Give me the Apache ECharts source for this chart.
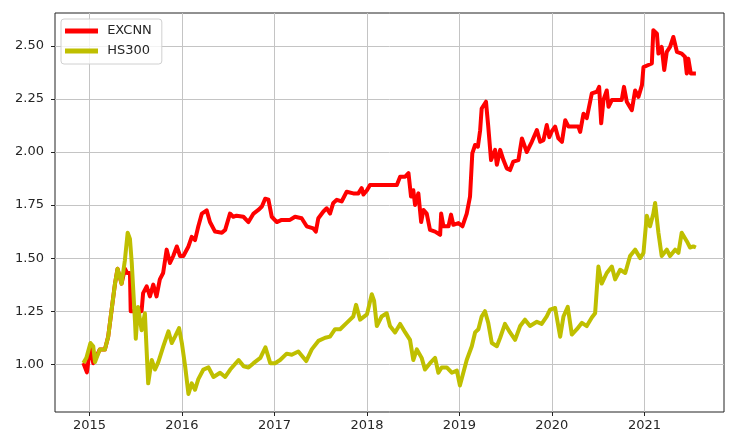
<!DOCTYPE html>
<html>
<head>
<meta charset="utf-8">
<script src="https://cdn.jsdelivr.net/npm/echarts@6.0.0/dist/echarts.min.js"></script>
<style>
html,body{margin:0;padding:0;background:#fff;}
#chart{width:729px;height:438px;}
</style>
</head>
<body>
<div id="chart"></div>
<script>
// ---- data ----
const excnnDates = ["2014-12-08","2014-12-22","2015-01-05","2015-01-16","2015-02-11","2015-03-03","2015-03-16","2015-03-30","2015-04-12","2015-04-22","2015-05-01","2015-05-08","2015-05-21","2015-05-30","2015-06-10","2015-06-13","2015-07-26","2015-08-01","2015-08-15","2015-08-28","2015-09-10","2015-09-23","2015-10-06","2015-10-19","2015-11-02","2015-11-15","2015-11-28","2015-12-12","2015-12-25","2016-01-07","2016-01-27","2016-02-09","2016-02-22","2016-03-06","2016-03-20","2016-04-08","2016-04-21","2016-05-11","2016-06-07","2016-06-20","2016-07-09","2016-07-22","2016-08-04","2016-08-31","2016-09-20","2016-10-10","2016-10-29","2016-11-12","2016-11-25","2016-12-08","2016-12-21","2017-01-10","2017-01-29","2017-03-03","2017-03-23","2017-04-18","2017-05-08","2017-06-03","2017-06-13","2017-06-23","2017-07-13","2017-07-26","2017-08-08","2017-08-21","2017-09-04","2017-09-23","2017-10-13","2017-11-08","2017-11-28","2017-12-11","2017-12-18","2018-01-01","2018-01-13","2018-04-29","2018-05-12","2018-06-01","2018-06-14","2018-06-24","2018-07-03","2018-07-10","2018-07-23","2018-08-03","2018-08-12","2018-08-25","2018-09-07","2018-09-27","2018-10-17","2018-10-21","2018-10-30","2018-11-19","2018-11-29","2018-12-08","2018-12-28","2019-01-13","2019-01-30","2019-02-12","2019-02-21","2019-03-04","2019-03-15","2019-03-24","2019-03-30","2019-04-16","2019-04-25","2019-05-06","2019-05-22","2019-05-29","2019-06-11","2019-06-24","2019-07-07","2019-07-20","2019-08-02","2019-08-22","2019-09-05","2019-09-24","2019-10-14","2019-11-03","2019-11-16","2019-11-29","2019-12-12","2019-12-22","2020-01-02","2020-01-14","2020-01-27","2020-02-10","2020-02-23","2020-03-07","2020-04-15","2020-04-22","2020-05-05","2020-05-18","2020-06-07","2020-06-27","2020-07-06","2020-07-14","2020-07-23","2020-08-05","2020-08-12","2020-08-25","2020-10-03","2020-10-12","2020-10-23","2020-11-12","2020-11-25","2020-12-08","2020-12-22","2020-12-28","2021-01-16","2021-01-30","2021-02-05","2021-02-19","2021-02-25","2021-03-10","2021-03-20","2021-03-30","2021-04-12","2021-04-25","2021-05-09","2021-05-28","2021-06-10","2021-06-17","2021-06-23","2021-07-03","2021-07-23"];
const excnnValues = [1.006,0.962,1.09,1.005,1.07,1.07,1.13,1.26,1.38,1.45,1.41,1.38,1.45,1.43,1.43,1.25,1.25,1.335,1.367,1.32,1.375,1.32,1.40,1.43,1.54,1.477,1.51,1.555,1.51,1.51,1.555,1.60,1.585,1.65,1.71,1.725,1.67,1.625,1.62,1.633,1.71,1.695,1.70,1.695,1.67,1.71,1.727,1.743,1.78,1.775,1.695,1.67,1.68,1.68,1.695,1.688,1.65,1.64,1.625,1.688,1.72,1.735,1.71,1.76,1.775,1.767,1.813,1.805,1.805,1.83,1.80,1.82,1.845,1.845,1.884,1.884,1.90,1.79,1.82,1.75,1.805,1.67,1.727,1.71,1.633,1.625,1.61,1.71,1.65,1.65,1.705,1.657,1.665,1.65,1.71,1.79,1.994,2.033,2.025,2.103,2.205,2.237,2.12,1.962,2.01,1.94,2.01,1.962,1.923,1.915,1.955,1.962,2.064,2.00,2.048,2.103,2.048,2.056,2.127,2.07,2.10,2.12,2.064,2.048,2.15,2.12,2.12,2.095,2.18,2.16,2.276,2.284,2.307,2.135,2.245,2.29,2.213,2.245,2.245,2.307,2.237,2.197,2.29,2.26,2.315,2.40,2.41,2.417,2.574,2.558,2.464,2.495,2.386,2.472,2.495,2.542,2.472,2.464,2.448,2.37,2.44,2.37,2.37];

const hs300Dates = ["2014-12-08","2014-12-20","2015-01-05","2015-01-16","2015-01-23","2015-02-11","2015-03-03","2015-03-16","2015-03-30","2015-04-12","2015-04-22","2015-05-01","2015-05-08","2015-05-21","2015-06-01","2015-06-10","2015-06-17","2015-06-23","2015-06-30","2015-07-03","2015-07-12","2015-07-26","2015-08-08","2015-08-21","2015-09-04","2015-09-17","2015-09-30","2015-10-20","2015-11-09","2015-11-22","2015-12-05","2015-12-21","2016-01-01","2016-01-14","2016-01-27","2016-02-09","2016-02-22","2016-03-06","2016-03-26","2016-04-15","2016-05-05","2016-05-31","2016-06-20","2016-07-10","2016-08-12","2016-09-01","2016-09-20","2016-10-10","2016-11-06","2016-11-26","2016-12-15","2017-01-03","2017-01-23","2017-02-18","2017-03-10","2017-04-05","2017-05-06","2017-05-28","2017-06-23","2017-07-20","2017-08-08","2017-08-28","2017-09-17","2017-10-13","2017-11-08","2017-11-19","2017-12-05","2018-01-01","2018-01-20","2018-01-29","2018-02-09","2018-02-28","2018-03-20","2018-04-02","2018-04-22","2018-05-12","2018-06-01","2018-06-20","2018-07-03","2018-07-17","2018-08-05","2018-08-18","2018-09-07","2018-09-27","2018-10-10","2018-10-23","2018-11-12","2018-12-02","2018-12-22","2019-01-03","2019-01-30","2019-02-19","2019-03-04","2019-03-17","2019-03-30","2019-04-12","2019-04-25","2019-05-09","2019-05-29","2019-06-11","2019-06-30","2019-07-20","2019-08-09","2019-08-29","2019-09-17","2019-10-07","2019-11-03","2019-11-22","2019-12-12","2019-12-25","2020-01-14","2020-02-03","2020-02-16","2020-03-04","2020-03-20","2020-04-09","2020-04-29","2020-05-18","2020-06-07","2020-06-20","2020-07-03","2020-07-16","2020-08-05","2020-08-25","2020-09-07","2020-09-27","2020-10-17","2020-11-05","2020-11-25","2020-12-15","2020-12-28","2021-01-10","2021-01-23","2021-02-05","2021-02-12","2021-02-25","2021-03-10","2021-03-30","2021-04-12","2021-05-02","2021-05-15","2021-05-28","2021-06-17","2021-06-30","2021-07-13","2021-07-23"];
const hs300Values = [1.006,1.03,1.10,1.085,1.01,1.07,1.07,1.13,1.26,1.38,1.45,1.41,1.38,1.49,1.62,1.59,1.48,1.35,1.20,1.12,1.27,1.16,1.24,0.91,1.02,0.975,1.01,1.085,1.155,1.10,1.13,1.17,1.10,0.99,0.86,0.91,0.88,0.93,0.975,0.985,0.94,0.96,0.94,0.975,1.02,0.99,0.985,1.005,1.03,1.08,1.005,1.005,1.02,1.05,1.045,1.06,1.015,1.07,1.11,1.125,1.13,1.165,1.165,1.195,1.225,1.28,1.21,1.235,1.33,1.30,1.18,1.225,1.24,1.18,1.15,1.19,1.15,1.115,1.02,1.07,1.03,0.975,1.005,1.03,0.96,0.985,0.985,0.96,0.97,0.90,1.02,1.085,1.15,1.165,1.225,1.25,1.195,1.10,1.085,1.125,1.19,1.15,1.115,1.18,1.21,1.18,1.20,1.19,1.225,1.257,1.265,1.13,1.225,1.27,1.14,1.165,1.195,1.18,1.22,1.24,1.46,1.38,1.43,1.46,1.40,1.445,1.43,1.51,1.54,1.50,1.525,1.70,1.65,1.71,1.76,1.62,1.51,1.54,1.51,1.54,1.525,1.62,1.58,1.55,1.555,1.55];

const xTickYears = [2015, 2016, 2017, 2018, 2019, 2020, 2021];
const yTickValues = [1.00, 1.25, 1.50, 1.75, 2.00, 2.25, 2.50];
const seriesNames = ["EXCNN", "HS300"];

// ---- chart ----
const toTs = s => { const p = s.split("-").map(Number); return new Date(p[0], p[1] - 1, p[2]).getTime(); };
const pair = (d, v) => d.map((x, i) => [toTs(x), v[i]]);
const yearTs = xTickYears.map(y => new Date(y, 0, 1).getTime());
const font = "DejaVu Sans";
const txt = "#262626";

const chart = echarts.init(document.getElementById("chart"), null, {renderer: "canvas"});
chart.setOption({
  animation: false,
  backgroundColor: "#ffffff",
  grid: {left: 55, right: 5, top: 13, bottom: 26, show: true, borderColor: "#222", borderWidth: 1, backgroundColor: "transparent"},
  legend: {
    orient: "vertical", left: 61, top: 19,
    data: seriesNames,
    icon: "rect", itemWidth: 33, itemHeight: 5, itemGap: 6,
    padding: [5, 10, 6, 4],
    formatter: name => " " + name,
    backgroundColor: "rgba(255,255,255,0.8)", borderColor: "#d0d0d0", borderWidth: 1, borderRadius: 3,
    textStyle: {fontFamily: font, fontSize: 13, color: txt, lineHeight: 14}
  },
  xAxis: {
    type: "value",
    min: new Date(2014, 7, 18).getTime(),
    max: new Date(2021, 10, 11).getTime(),
    axisLine: {show: false},
    axisTick: {show: true, length: 4, lineStyle: {color: "#222"}, customValues: yearTs},
    axisLabel: {customValues: yearTs, margin: 7, fontFamily: font, fontSize: 13, color: txt,
      formatter: v => String(new Date(v).getFullYear())},
    splitLine: {show: true, lineStyle: {color: "#c4c4c4", width: 1}}
  },
  yAxis: {
    type: "value",
    min: 0.775, max: 2.655,
    axisLine: {show: false},
    axisTick: {show: true, length: 4, lineStyle: {color: "#222"}, customValues: yTickValues},
    axisLabel: {customValues: yTickValues, margin: 11, fontFamily: font, fontSize: 13, color: txt,
      formatter: v => v.toFixed(2)},
    splitLine: {show: true, lineStyle: {color: "#c4c4c4", width: 1}}
  },
  series: [
    {name: seriesNames[0], type: "line", data: pair(excnnDates, excnnValues), showSymbol: false, symbol: "none",
     color: "#ff0000", lineStyle: {width: 4, color: "#ff0000", join: "round"}, z: 2},
    {name: seriesNames[1], type: "line", data: pair(hs300Dates, hs300Values), showSymbol: false, symbol: "none",
     color: "#bfbf00", lineStyle: {width: 4, color: "#bfbf00", join: "round"}, z: 3}
  ]
});
</script>
</body>
</html>
